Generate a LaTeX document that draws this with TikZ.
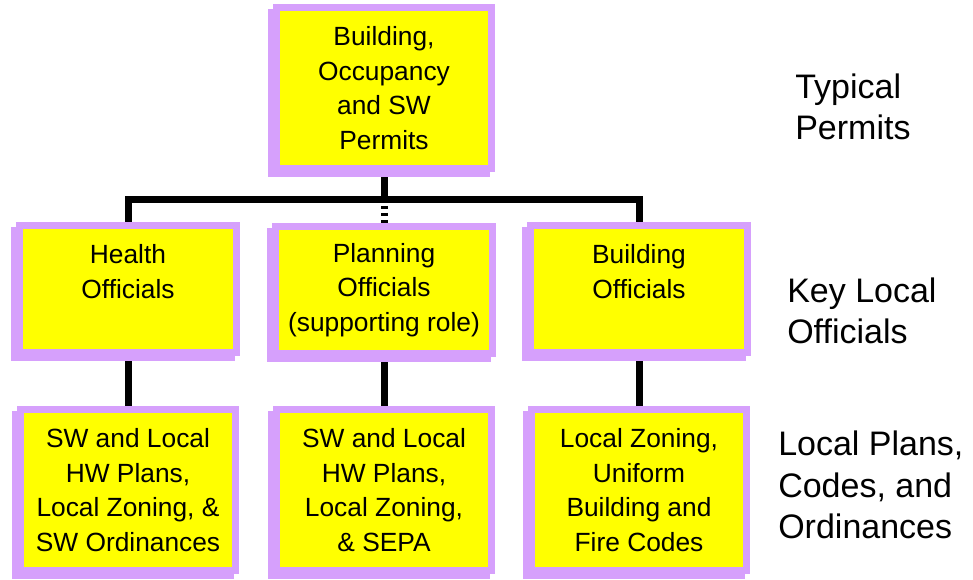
\documentclass[tikz,border=0pt]{standalone}
\usepackage{fontspec}
\setmainfont{Liberation Sans}
\usepackage{tikz}
\usetikzlibrary{shadows,backgrounds}
\definecolor{lav}{RGB}{214,160,252}
\definecolor{ylw}{RGB}{255,255,0}

\begin{document}
\begin{tikzpicture}[x=0.75pt,y=-0.75pt,
  pbox/.style={draw=lav,fill=ylw,line width=5.25pt,align=center,inner sep=0pt,
    font=\fontsize{19.75}{26}\selectfont,
    general shadow={shadow xshift=-3.75pt,shadow yshift=-3.75pt,fill=lav,draw=lav,line width=5.25pt}},
  tallbox/.style={pbox,minimum width=161.25pt,minimum height=120.75pt},
  flatbox/.style={pbox,minimum width=162.75pt,minimum height=95.25pt},
  conn/.style={line width=5.25pt},
  side/.style={anchor=west,align=left,inner sep=0pt,font=\fontsize{25.5}{31}\selectfont}]
\useasboundingbox (0,0) rectangle (973,579);
% permits
\node[tallbox] (permits) at (384,88) {Building,\\Occupancy\\and SW\\Permits};
% key local officials
\node[flatbox] (health) at (128,289) {Health\\Officials\\\mbox{}};
\node[flatbox] (planning) at (384,290) {Planning\\Officials\\(supporting role)};
\node[flatbox] (building) at (639,289) {Building\\Officials\\\mbox{}};
% local plans, codes and ordinances
\node[tallbox] (hplans) at (128,490) {SW and Local\\HW Plans,\\Local Zoning, \&\\SW Ordinances};
\node[tallbox] (pplans) at (384,490) {SW and Local\\HW Plans,\\Local Zoning,\\\& SEPA};
\node[tallbox] (bcodes) at (639,490) {Local Zoning,\\Uniform\\Building and\\Fire Codes};
% row labels
\node[side] (lbltop) at (795,107) {Typical\\Permits};
\node[side] (lblmid) at (787,311) {Key Local\\Officials};
\node[side] (lblbot) at (778,485) {Local Plans,\\Codes, and\\Ordinances};
% connectors
\coordinate (bus) at (384,199);
\begin{scope}[on background layer]
  \draw[conn] (permits.south) -- (bus);
  \draw[conn] (health.north) |- (bus) -| (building.north);
  \draw[conn,dash pattern=on 2.6pt off 2.6pt] (bus) -- (planning.north);
  \draw[conn] (health.south) -- (hplans.north);
  \draw[conn] (planning.south) -- (pplans.north);
  \draw[conn] (building.south) -- (bcodes.north);
\end{scope}
\end{tikzpicture}
\end{document}
